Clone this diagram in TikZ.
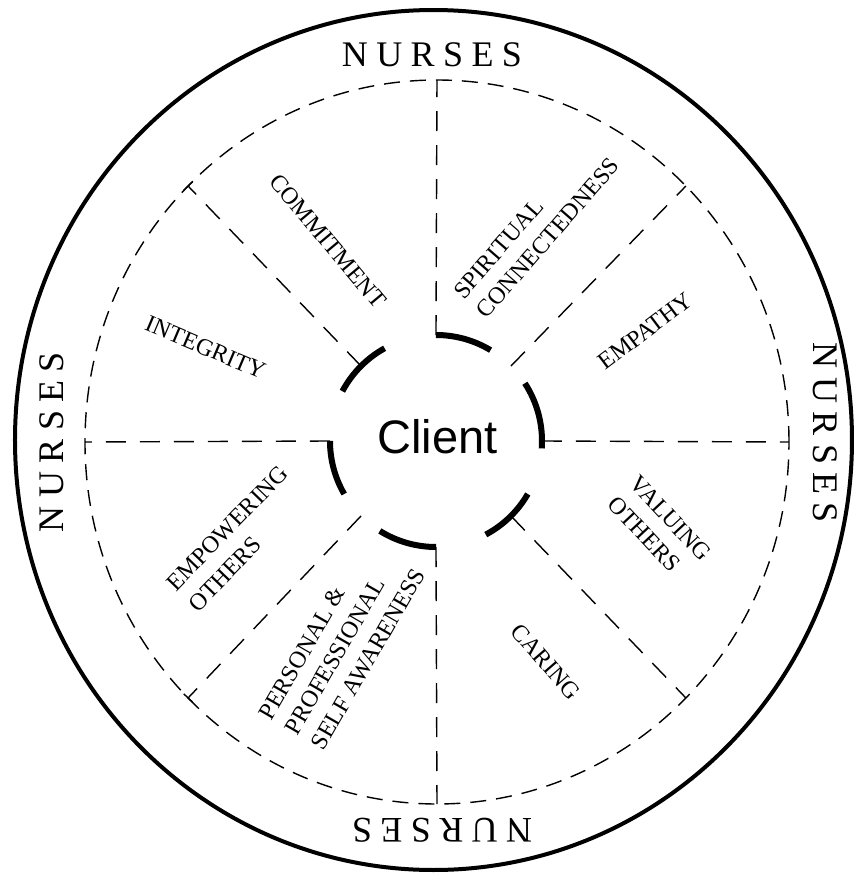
\documentclass[tikz,border=0pt]{standalone}
\usepackage{fontspec}
\setmainfont{Liberation Serif}
\newfontfamily\clientfont{Liberation Sans}
\usetikzlibrary{calc, positioning}
\newcommand{\nurses}{N\kern4.2pt U\kern4.2pt R\kern4.2pt S\kern4.2pt E\kern4.2pt S}

\begin{document}
\begin{tikzpicture}[x=0.5pt, y=0.5pt,
    rim/.style={line width=2pt},
    track/.style={line width=0.7pt, dash pattern=on 8pt off 5pt},
    spoke/.style={line width=0.7pt, dash pattern=on 10pt off 7pt},
    hub/.style={line width=3pt},
    virtue/.style={font=\fontsize{12}{15}\selectfont, align=left, inner sep=0pt},
    staff/.style={font=\fontsize{18}{18}\selectfont, inner sep=0pt}]
  \useasboundingbox (-436,-434) rectangle (421,441);
  \draw[rim] (-2.5,1) ellipse [x radius=418.5, y radius=430];
  \draw[track] (1,-1) ellipse [x radius=352, y radius=362];
  \foreach \a/\b in {59/90, -4/33, -62/-30, 238/270, 180/210, 119/152}
    \draw[hub] (\a:106) arc [start angle=\a, end angle=\b, radius=106];
  \foreach \a in {0,45,...,315} {
    \coordinate (in\a) at (\a:106);
    \coordinate (out\a) at ({1+352*cos(\a)},{-1+362*sin(\a)});
    \draw[spoke] (in\a) -- (out\a);
  }
  \foreach \a in {135,225}
    \draw[line width=0.7pt] ($(out\a)!3pt!90:(in\a)$) -- ($(out\a)!3pt!-90:(in\a)$);
  \node[font=\clientfont\fontsize{23.5}{24}\selectfont, inner sep=0pt] (client) at (1.5,4.5) {Client};
  \node[staff] (nursesN) at (-4,386) {\nurses};
  \node[staff, rotate=90] (nursesW) at (-384,-1) {\nurses};
  \node[staff, rotate=-90] (nursesE) at (389,8) {\nurses};
  \node[staff, rotate=180] (nursesS) at (6,-389) {\nurses};
  \node[virtue, rotate=49] (spiritual) at (100.5,213) {SPIRITUAL\\CONNECTEDNESS};
  \node[virtue, rotate=37] (empathy) at (209,110) {EMPATHY};
  \node[virtue, rotate=-47] (valuing) at (223.5,-87.7) {VALUING\\OTHERS};
  \node[virtue, rotate=-49] (caring) at (110,-221) {CARING};
  \node[virtue, rotate=60] (awareness) at (-94,-203) {PERSONAL \&\\PROFESSIONAL\\SELF AWARENESS};
  \node[virtue, rotate=46] (empowering) at (-197.7,-97.7) {EMPOWERING\\OTHERS};
  \node[virtue, rotate=-23] (integrity) at (-230.5,93.5) {INTEGRITY};
  \node[virtue, rotate=-50] (commitment) at (-108,200) {COMMITMENT};
\end{tikzpicture}
\end{document}
